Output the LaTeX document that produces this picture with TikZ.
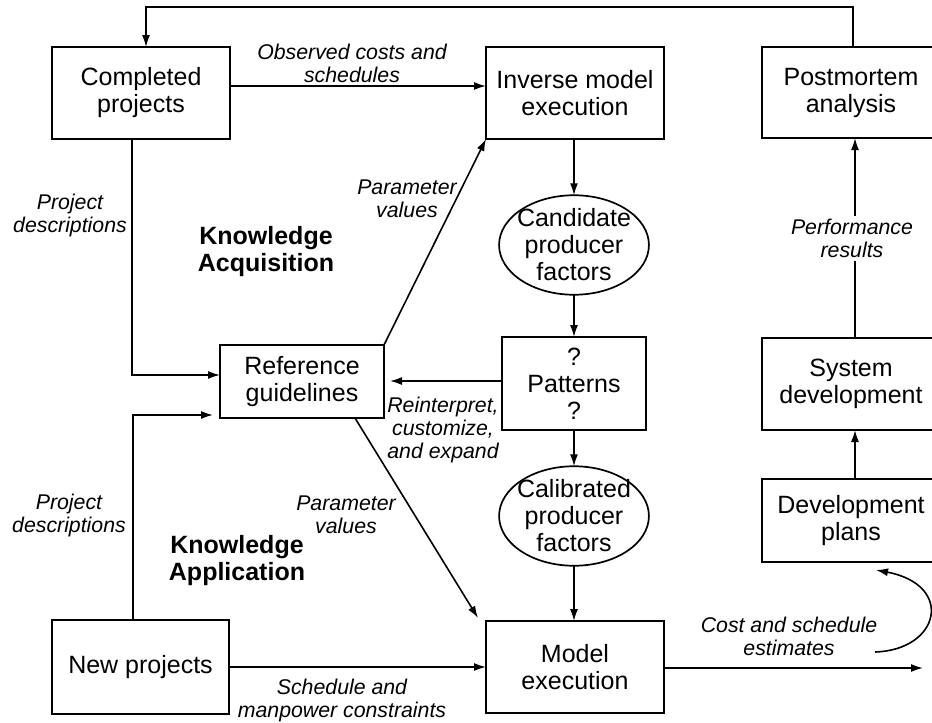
\documentclass[tikz,border=0pt]{standalone}
\usepackage{fontspec}
\setmainfont{Liberation Sans}
\usetikzlibrary{arrows.meta,shapes.geometric}
\begin{document}
\begin{tikzpicture}[x=1pt,y=-1pt,
  every node/.style={inner sep=0pt,outer sep=0pt},
  box/.style={draw,line width=1.7pt,align=center,font=\fontsize{25}{27}\selectfont},
  oval/.style={draw,ellipse,line width=1.7pt,align=center,font=\fontsize{25}{27}\selectfont,inner xsep=-4pt,inner ysep=-1pt},
  lbl/.style={align=center,font=\fontsize{21.3}{23}\selectfont\itshape},
  head/.style={align=center,font=\fontsize{25}{27}\selectfont\bfseries},
  arr/.style={line width=1.6pt,-{Latex[length=12pt,width=8pt]}},
  ln/.style={line width=1.6pt}]
\clip (0,0) rectangle (932,723);
\fill[white] (0,0) rectangle (932,723);

% boxes and ovals
\node[box,minimum width=178,minimum height=92] (cp) at (141,93) {Completed\\projects};
\node[box,minimum width=178,minimum height=92] (ime) at (575,93) {Inverse model\\execution};
\node[box,minimum width=178,minimum height=91] (pm) at (851,92.5) {Postmortem\\analysis};
\node[oval] (cpf) at (574,245) {Candidate\\producer\\factors};
\node[box,minimum width=144,minimum height=93] (pat) at (574,383.5) {?\\Patterns\\?};
\node[box,minimum width=164,minimum height=73] (rg) at (302,381.5) {Reference\\guidelines};
\node[oval] (cal) at (574,516) {Calibrated\\producer\\factors};
\node[box,minimum width=178,minimum height=92] (me) at (575,667) {Model\\execution};
\node[box,minimum width=177,minimum height=94] (np) at (140.5,667) {New projects};
\node[box,minimum width=178,minimum height=92] (sd) at (851,384) {System\\development};
\node[box,minimum width=178,minimum height=83] (dp) at (851,520.5) {Development\\plans};

% free ends of the estimate output and the feedback curve
\coordinate (outend) at (923,668);
\coordinate (curvestart) at (875,652);
\coordinate (curveend) at (876,570);

% labels
\node[lbl] (lobs) at (352,63) {Observed costs and\\schedules};
\node[lbl] (lpv1) at (407,198.5) {Parameter\\values};
\node[lbl] (lpd1) at (70,215) {Project\\descriptions};
\node[head] (hka) at (266,251.5) {Knowledge\\Acquisition};
\node[lbl] (lrce) at (443,430) {Reinterpret,\\customize,\\and expand};
\node[lbl] (lpd2) at (69,515.5) {Project\\descriptions};
\node[lbl] (lpv2) at (346,515) {Parameter\\values};
\node[head] (hkap) at (237,560.5) {Knowledge\\Application};
\node[lbl] (lsm) at (342,700.5) {Schedule and\\manpower constraints};
\node[lbl] (lcse) at (789,636.5) {Cost and schedule\\estimates};
\node[lbl,fill=white,inner ysep=3pt] (lperf) at (852,238.5) {Performance\\results};

% connectors
\draw[arr] ([xshift=2pt]pm.north) |- (146,7) -- ([xshift=5pt]cp.north);
\draw[arr] ([yshift=7pt]cp.east) -- ([yshift=7pt]ime.west);
\draw[arr] (cpf.north |- ime.south) -- (cpf.north);
\draw[arr] (cpf.south) -- (cpf.south |- pat.north);
\draw[arr] (cal.north |- pat.south) -- (cal.north);
\draw[arr] (cal.south) -- (cal.south |- me.north);
\draw[arr,shorten >=6pt] ([yshift=2.5pt]pat.west) -- ([yshift=2.5pt]pat.west -| rg.east);
\draw[arr] (rg.north east) -- (ime.south west);
\draw[arr] ([xshift=-29pt]rg.south east) -- ([xshift=-8pt,yshift=3pt]me.north west);
\draw[arr] ([xshift=-9pt]cp.south) |- ([yshift=6.5pt]rg.west);
\draw[arr,shorten >=7pt] ([xshift=-7.5pt]np.north) |- ([yshift=-33.5pt]rg.west);
\draw[arr] (np.east) -- (me.west);
\draw[arr] ([yshift=-1pt]me.east) -- (outend);
\draw[arr] (curvestart) .. controls (940,650) and (955,585) .. (curveend);
\draw[arr] ([xshift=4pt]dp.north) -- ([xshift=4pt]sd.south);
\draw[ln] ([xshift=4pt]sd.north) -- ([xshift=4pt]sd.north |- lperf.south);
\draw[arr] ([xshift=4pt]pm.south |- lperf.north) -- ([xshift=4pt]pm.south);
\end{tikzpicture}
\end{document}
